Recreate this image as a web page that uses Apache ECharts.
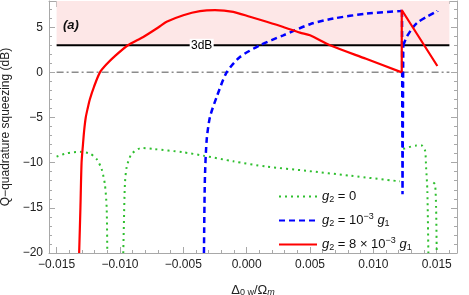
<!DOCTYPE html>
<html>
<head>
<meta charset="utf-8">
<script src="https://cdn.jsdelivr.net/npm/echarts@6/dist/echarts.min.js"></script>
<style>
html,body{margin:0;padding:0;background:#fff;}
#chart{width:469px;height:295px;}
</style>
</head>
<body>
<div id="chart"></div>
<script>
// ---- data ----
const xRange = [-0.0156, 0.0166];
const yRange = [-20, 7.9];
const seriesNames = ['g2 = 0', 'g2 = 1e-3 g1', 'g2 = 8e-3 g1'];

const greenPoints = [
  [-0.0150, -9.33], [-0.01421, -8.96], [-0.01316, -8.8], [-0.01237, -9.0],
  [-0.01184, -9.6], [-0.01145, -10.7], [-0.01119, -12.4], [-0.01105, -14.96],
  [-0.01100, -20], null,
  [-0.00974, -20], [-0.00969, -16.8], [-0.00961, -12.4], [-0.00947, -10.5],
  [-0.00908, -9.03], [-0.00829, -8.37], [-0.00737, -8.48], [-0.00501, -8.85],
  [-0.00343, -9.22], [-0.00106, -9.85], [0.00158, -10.44], [0.00474, -10.9],
  [0.00816, -11.44], [0.01210, -12.07], null,
  [0.01236, -8.48], [0.01342, -8.1], [0.01382, -8.1], [0.01408, -8.67],
  [0.01416, -10.5], [0.01426, -13.1], [0.01434, -20], null,
  [0.01473, -12.2], [0.01487, -12.4], [0.01495, -15], [0.01500, -20]
];

// blue: main branch, then the jump near 0.0123, then the short rising branch
const blueMain = [
  [-0.00337, -20], [-0.00330, -12], [-0.00316, -7.55], [-0.00290, -4.96],
  [-0.00237, -2.74], [-0.00158, 0], [-0.00053, 1.7], [0.00105, 3.0],
  [0.00289, 4.1], [0.00500, 5.33], [0.00684, 5.96], [0.00947, 6.5],
  [0.01210, 6.78], [0.01226, 6.8]
];
const blueJump = [[0.01226, 6.8], [0.01230, -13.5], [0.01236, 3.0]];
const blueTail = [[0.01236, 3.0], [0.01263, 3.92], [0.01315, 5.03], [0.01355, 5.59], [0.01421, 6.15], [0.01505, 6.78]];

// red: smooth branch, then the jump and straight tail
const redMain = [
  [-0.01322, -20], [-0.01312, -15], [-0.01303, -10], [-0.01292, -8],
  [-0.01283, -6.5], [-0.01270, -5], [-0.01255, -4], [-0.01238, -3],
  [-0.01205, -1.6], [-0.01158, 0],
  [-0.01102, 0.95], [-0.01040, 1.8],
  [-0.00937, 3.0], [-0.00816, 3.92], [-0.00684, 5.1], [-0.00632, 5.6],
  [-0.00500, 6.33], [-0.00369, 6.78], [-0.00250, 6.89], [-0.00106, 6.7],
  [0.00026, 6.15], [0.00158, 5.6], [0.00289, 5.03], [0.00421, 4.4],
  [0.00500, 4.1], [0.00658, 3.0], [0.00942, 1.5], [0.01224, 0]
];
const redJump = [[0.01224, 0], [0.01224, 6.9], [0.01505, 0.7]];

const zeroLine = [[-0.015, 0], [0.016, 0]];
const thresholdLine = [[-0.015, 3], [0.016, 3]];
const thresholdLabelAt = [-0.00355, 3];
const shadedBand = [[-0.015, 3], [0.016, 7.9]];

// ---- chart ----
const chart = echarts.init(document.getElementById('chart'), null, {renderer: 'canvas'});
const FONT = '"Liberation Sans", Arial, sans-serif';
const frameColor = '#a8a8a8';
const GREEN = '#2fbf2f', BLUE = '#0000ff', RED = '#ff0000';
const minus = s => String(s).replace('-', '\u2212');

function xLabel(v) {
  const r = Math.round(v / 0.005);
  if (Math.abs(v - r * 0.005) > 1e-9) return '';
  return minus((r * 0.005).toFixed(3));
}
function yLabel(v) {
  if (Math.abs(v / 5 - Math.round(v / 5)) > 1e-9) return '';
  return minus(Math.round(v));
}

const legendRich = {
  i: {fontStyle: 'italic', fontSize: 13, lineHeight: 16, fontFamily: FONT, color: '#111'},
  n: {fontSize: 13, lineHeight: 16, fontFamily: FONT, color: '#111'},
  sub: {fontSize: 9, lineHeight: 9, verticalAlign: 'bottom', fontFamily: FONT, color: '#111'},
  sup: {fontSize: 9, lineHeight: 9, verticalAlign: 'top', fontFamily: FONT, color: '#111'}
};
const legendText = {
  'g2 = 0': '{i|g}{sub|2}{n| = 0}',
  'g2 = 1e-3 g1': '{i|g}{sub|2}{n| = 10}{sup|\u22123}{n| }{i|g}{sub|1}',
  'g2 = 8e-3 g1': '{i|g}{sub|2}{n| = 8 \u00d7 10}{sup|\u22123}{n| }{i|g}{sub|1}'
};

const axisCommon = {
  type: 'value',
  splitLine: {show: false},
  axisLine: {show: true, onZero: false, lineStyle: {color: frameColor, width: 1}},
  axisTick: {show: true, inside: true, length: 6, lineStyle: {color: frameColor}},
  minorTick: {show: true, splitNumber: 5, length: 3, lineStyle: {color: frameColor}}
};

const smoothOpts = {smooth: 0.25};

const option = {
  animation: false,
  backgroundColor: '#fff',
  grid: {left: 49, right: 12, top: 1, bottom: 42, containLabel: false, outerBoundsMode: 'none'},
  xAxis: [
    Object.assign({}, axisCommon, {
      position: 'bottom', min: xRange[0], max: xRange[1], splitNumber: 6,
      axisLabel: {formatter: xLabel, color: '#222', fontSize: 12, fontFamily: FONT, margin: 6,
                  showMinLabel: false, showMaxLabel: false},
      name: '\u0394{sub|0 w}/\u03a9{subi|m}',
      nameLocation: 'middle', nameGap: 31,
      nameTextStyle: {fontSize: 13, fontFamily: FONT, color: '#222',
        rich: {sub: {fontSize: 9, verticalAlign: 'bottom', lineHeight: 9, fontFamily: FONT, color: '#222'},
               subi: {fontSize: 9, fontStyle: 'italic', verticalAlign: 'bottom', lineHeight: 9, fontFamily: FONT, color: '#222'}}}
    }),
    Object.assign({}, axisCommon, {
      position: 'top', min: xRange[0], max: xRange[1], splitNumber: 6,
      axisLabel: {show: false}
    })
  ],
  yAxis: [
    Object.assign({}, axisCommon, {
      position: 'left', min: yRange[0], max: yRange[1], interval: 5,
      axisLabel: {formatter: yLabel, color: '#222', fontSize: 12, fontFamily: FONT, margin: 6,
                  showMaxLabel: false},
      name: 'Q\u2212quadrature squeezing (dB)',
      nameLocation: 'middle', nameGap: 33, nameRotate: 90,
      nameTextStyle: {fontSize: 12, fontFamily: FONT, color: '#222'}
    }),
    Object.assign({}, axisCommon, {
      position: 'right', min: yRange[0], max: yRange[1], interval: 5,
      axisLabel: {show: false}
    })
  ],
  legend: {
    data: seriesNames,
    orient: 'vertical', left: 273, top: 185,
    itemWidth: 38, itemHeight: 16, itemGap: 8,
    itemStyle: {color: 'rgba(0,0,0,0)', borderWidth: 0, opacity: 0},
    formatter: n => legendText[n],
    textStyle: {rich: legendRich, fontSize: 13, fontFamily: FONT},
    selectedMode: false
  },
  graphic: [{
    type: 'text', left: 63, top: 19, z: 100,
    style: {text: '(a)', fontSize: 13, fontWeight: 'bold', fontStyle: 'italic', fontFamily: FONT, fill: '#111'}
  }],
  series: [
    {
      name: 'band', type: 'line', data: thresholdLine, symbol: 'none', silent: true,
      lineStyle: {width: 0}, z: 1,
      markArea: {silent: true, itemStyle: {color: '#fde7e7'},
        data: [[{coord: shadedBand[0]}, {coord: shadedBand[1]}]]}
    },
    {
      name: 'zero', type: 'line', data: zeroLine, symbol: 'none', silent: true, z: 2,
      lineStyle: {color: '#8c8c8c', width: 1.5, type: [7, 3, 2, 3]}
    },
    {
      name: 'threshold', type: 'line', data: thresholdLine, symbol: 'none', silent: true, z: 2,
      lineStyle: {color: '#000', width: 2},
      markPoint: {
        silent: true, symbol: 'rect', symbolSize: [24, 13],
        itemStyle: {color: '#fff'},
        label: {show: true, position: 'inside', formatter: '3dB', color: '#000',
                fontSize: 12, fontFamily: FONT},
        data: [{coord: thresholdLabelAt}]
      }
    },
    Object.assign({
      name: seriesNames[0], type: 'line', data: greenPoints, symbol: 'none', connectNulls: false,
      clip: true, z: 3,
      lineStyle: {color: GREEN, width: 2, type: [2, 4]}, itemStyle: {color: GREEN}
    }, smoothOpts),
    Object.assign({
      name: seriesNames[1], type: 'line', data: blueMain, symbol: 'none', clip: true, z: 4,
      lineStyle: {color: BLUE, width: 2.5, type: [6, 4]}, itemStyle: {color: BLUE}
    }, smoothOpts),
    {
      name: seriesNames[1], type: 'line', data: blueJump, symbol: 'none', clip: true, z: 4,
      lineStyle: {color: BLUE, width: 2.5, type: [6, 4]}, itemStyle: {color: BLUE}
    },
    Object.assign({
      name: seriesNames[1], type: 'line', data: blueTail, symbol: 'none', clip: true, z: 4,
      lineStyle: {color: BLUE, width: 2.5, type: [6, 4]}, itemStyle: {color: BLUE}
    }, smoothOpts),
    Object.assign({
      name: seriesNames[2], type: 'line', data: redMain, symbol: 'none', clip: true, z: 5,
      lineStyle: {color: RED, width: 2.2}, itemStyle: {color: RED}
    }, smoothOpts),
    {
      name: seriesNames[2], type: 'line', data: redJump, symbol: 'none', clip: true, z: 5,
      lineStyle: {color: RED, width: 2.2}, itemStyle: {color: RED}
    }
  ]
};
chart.setOption(option);
</script>
</body>
</html>
